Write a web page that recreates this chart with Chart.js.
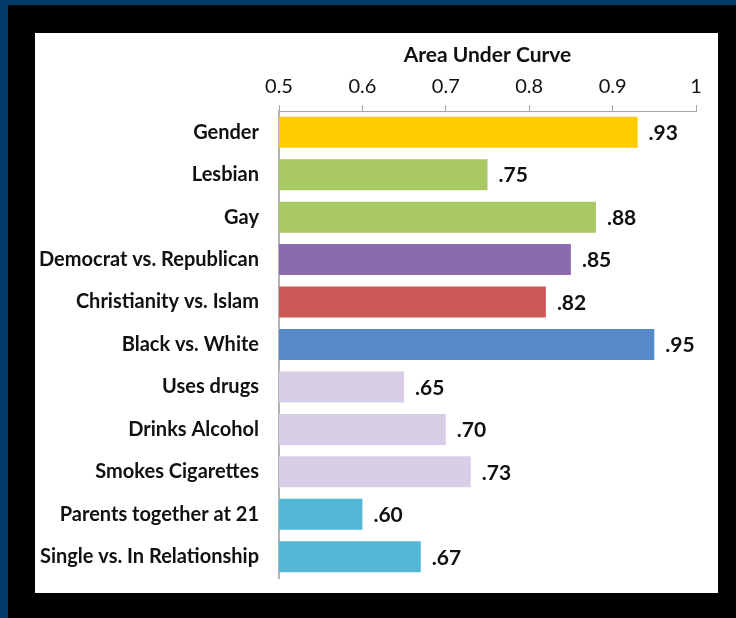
<!DOCTYPE html>
<html>
<head>
<meta charset="utf-8">
<script src="https://cdn.jsdelivr.net/npm/chart.js@4.4.1/dist/chart.umd.min.js"></script>
<style>
  html, body { margin: 0; padding: 0; }
  body { width: 736px; height: 618px; background: #033b69; position: relative; overflow: hidden; }
  #frame { position: absolute; left: 8px; top: 5px; right: 0; bottom: 0; background: #000; }
  #panel { position: absolute; left: 35px; top: 33px; width: 683px; height: 560px; background: #fff; }
  canvas { display: block; }
</style>
</head>
<body>
<div id="frame"></div>
<div id="panel"><canvas id="chart" width="683" height="560"></canvas></div>
<script>
const categories = [
  "Gender", "Lesbian", "Gay", "Democrat vs. Republican", "Christianity vs. Islam",
  "Black vs. White", "Uses drugs", "Drinks Alcohol", "Smokes Cigarettes",
  "Parents together at 21", "Single vs. In Relationship",
];
const aucValues = [0.93, 0.75, 0.88, 0.85, 0.82, 0.95, 0.65, 0.70, 0.73, 0.60, 0.67];
const barColors = [
  "#ffcc00", "#a8c864", "#a8c864", "#8a6bac", "#cc5955", "#568acb",
  "#d9cee7", "#d9cee7", "#d9cee7", "#52b8d6", "#52b8d6",
];
const axisTitle = "Area Under Curve";

const FONT = "Lato, 'Open Sans', sans-serif";

// ".93" style labels to the right of each bar
const valueLabels = {
  id: "valueLabels",
  afterDatasetsDraw(chart) {
    const { ctx } = chart;
    const meta = chart.getDatasetMeta(0);
    ctx.save();
    ctx.font = "bold 21px " + FONT;
    ctx.fillStyle = "#111";
    ctx.textAlign = "left";
    ctx.textBaseline = "middle";
    meta.data.forEach((bar, i) => {
      const txt = aucValues[i].toFixed(2).replace(/^0/, "");
      ctx.fillText(txt, bar.x + 11, bar.y + 1);
    });
    ctx.restore();
  },
};

new Chart(document.getElementById("chart").getContext("2d"), {
  type: "bar",
  data: {
    labels: categories,
    datasets: [{
      data: aucValues,
      backgroundColor: barColors,
      barPercentage: 0.73,
      categoryPercentage: 1,
    }],
  },
  options: {
    indexAxis: "y",
    responsive: false,
    animation: false,
    layout: { padding: { left: 0, right: 22, top: 0, bottom: 15 } },
    plugins: { legend: { display: false }, tooltip: { enabled: false } },
    scales: {
      x: {
        position: "top",
        min: 0.5,
        max: 1,
        ticks: {
          stepSize: 0.1,
          color: "#111",
          padding: 6,
          font: { family: FONT, size: 20 },
          callback: (v) => String(Number(v.toFixed(1))),
        },
        grid: { drawOnChartArea: false, drawTicks: true, tickLength: 6, color: "#a6a6a6" },
        border: { display: true, color: "#a6a6a6" },
        title: { display: true, text: axisTitle, color: "#111", padding: { top: 10, bottom: 2 }, font: { family: FONT, size: 21, weight: "bold" } },
        afterFit(scale) { scale.height = 78; },
      },
      y: {
        ticks: { color: "#111", padding: 12, font: { family: FONT, size: 20, weight: "bold" } },
        grid: { display: false },
        border: { display: true, color: "#b4b4b4", width: 2 },
        afterFit(scale) {
          scale.width = 244;
          scale.paddingTop = 0;
          scale.paddingBottom = 0;
        },
      },
    },
  },
  plugins: [valueLabels],
});
</script>
</body>
</html>
